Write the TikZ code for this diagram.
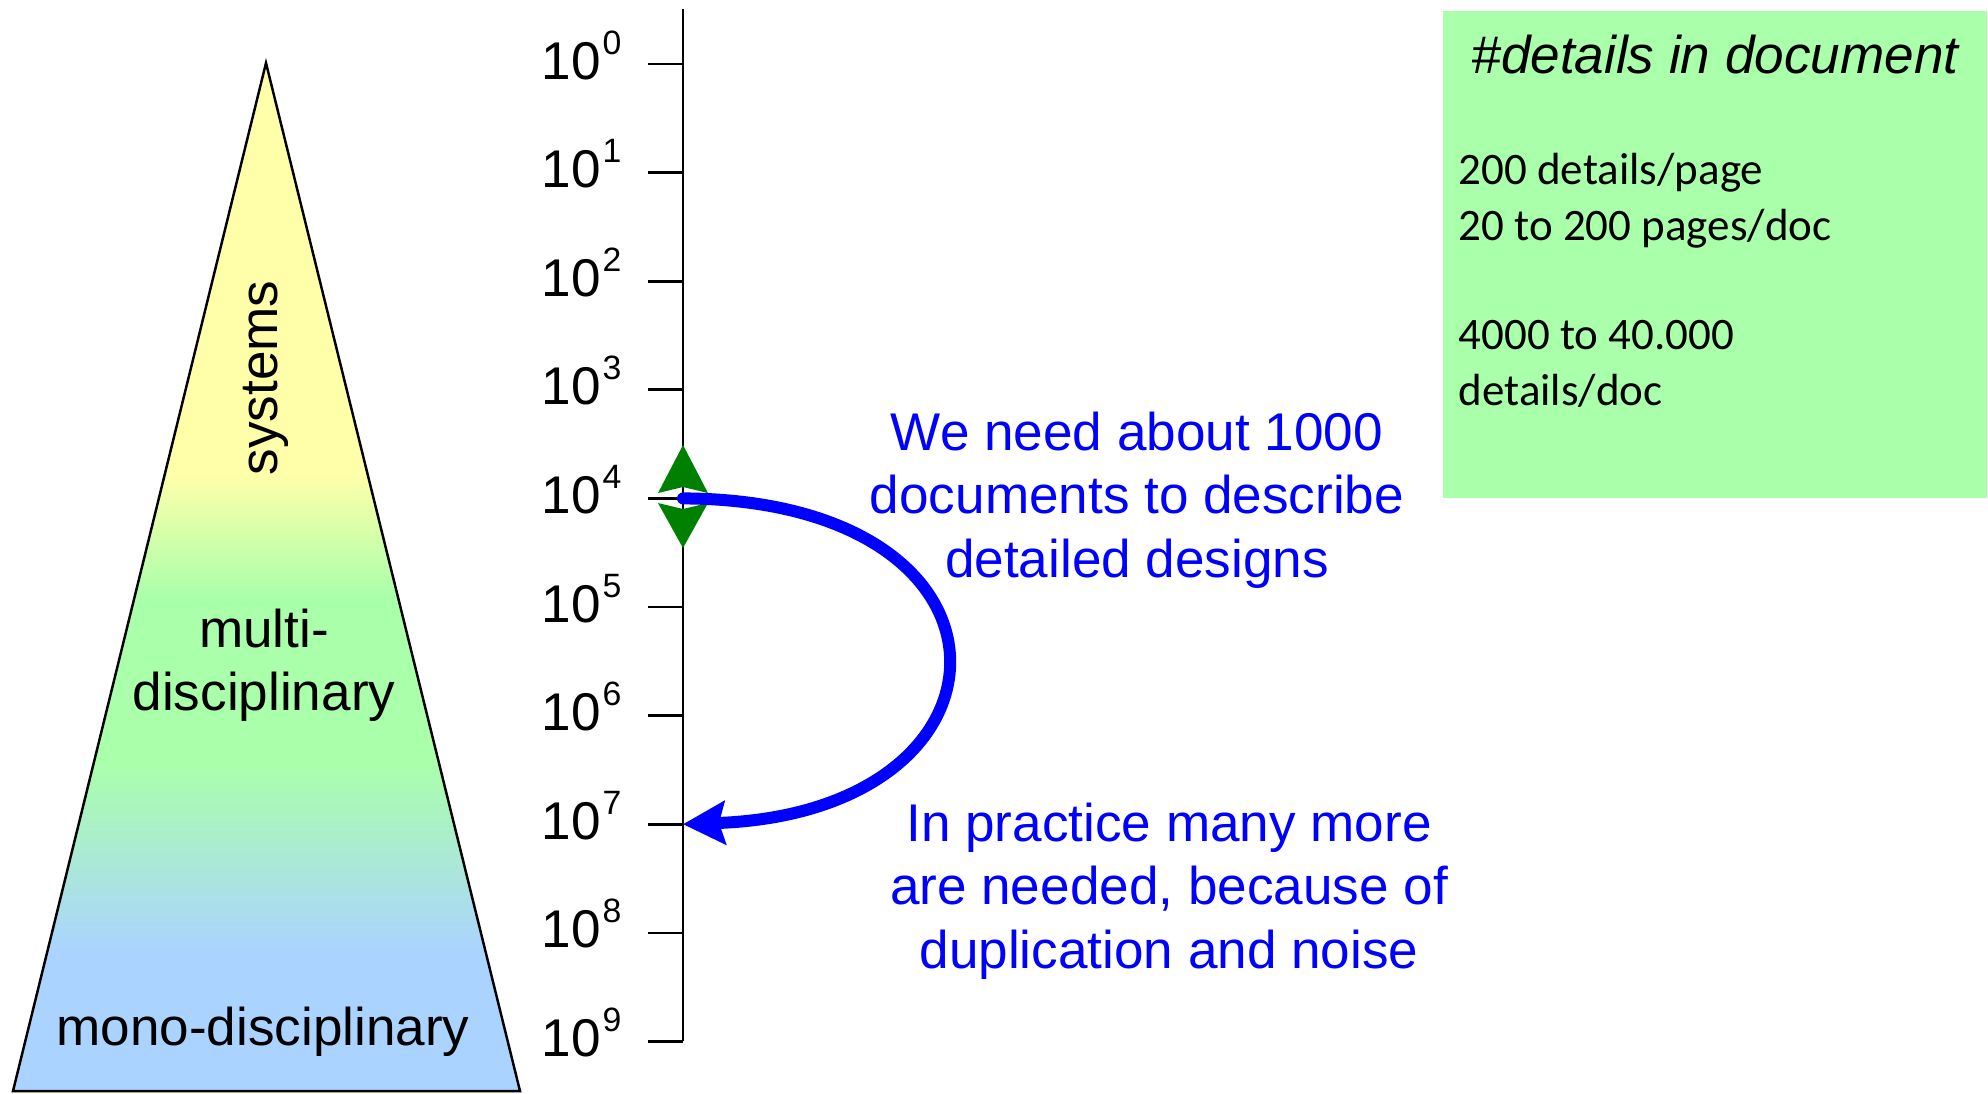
\documentclass[tikz,border=0pt]{standalone}
\usepackage{fontspec}
\setmainfont{Liberation Sans}
\newfontfamily\notefont{Carlito}
\usetikzlibrary{arrows.meta}

\definecolor{pyrYellow}{HTML}{FFFFAA}
\definecolor{pyrGreen}{HTML}{AAFFAA}
\definecolor{pyrBlue}{HTML}{AAD4FF}
\definecolor{boxGreen}{HTML}{AAFFAA}
\definecolor{markGreen}{HTML}{008000}
\definecolor{noteBlue}{HTML}{0000FF}

% pyramid fill: yellow at the apex, green in the middle, blue at the base
\pgfdeclareverticalshading{pyramidfill}{100bp}{%
  color(0bp)=(pyrBlue); color(31.8bp)=(pyrBlue);
  color(41bp)=(pyrGreen); color(49bp)=(pyrGreen);
  color(55bp)=(pyrYellow); color(100bp)=(pyrYellow)}

\begin{document}
\begin{tikzpicture}[x=0.01cm, y=-0.01cm,
  lbl/.style={font=\fontsize{15.1pt}{18pt}\selectfont, inner sep=0pt},
  bluetext/.style={lbl, text=noteBlue, align=center},
  axisline/.style={line width=0.75pt, black},
  bluearrow/.style={noteBlue, line width=0.12cm, line cap=round,
    -{Stealth[length=0.42cm, width=0.43cm, inset=0.06cm]}},
  notetext/.style={font=\notefont\fontsize{12.8pt}{15.9pt}\selectfont, inner sep=0pt, align=left}]

\useasboundingbox (0,0) rectangle (1988,1093);

% pyramid of disciplines
\path[draw, line width=0.7pt, shading=pyramidfill]
  (266,63) -- (520,1091) -- (13,1091) -- cycle;
\node[lbl, rotate=90] (sys) at (266,378) {systems};
\node[lbl, align=center] (multi) at (264,665) {multi-\\disciplinary};
\node[lbl] (mono) at (263,1032) {mono-disciplinary};

% logarithmic axis with ticks and labels
\coordinate (axtop) at (683,9);
\coordinate (axbot) at (683,1041);
\draw[axisline] (axtop) -- (axbot);
\foreach \k in {0,...,9}{
  \coordinate (t\k) at (683,{64+108.6*\k});
  \draw[axisline] (t\k) -- ++(-35,0);
  \node[lbl, anchor=base east] (e\k) at (622,{79+108.6*\k})
    {10\hspace{0.5pt}\raisebox{7.1pt}{\fontsize{9.6pt}{10pt}\selectfont\k}};
}

% green double marker at 10^4
\fill[markGreen] (683,445) -- (708,493) -- (683,487) -- (658,493) -- cycle;
\fill[markGreen] (683,548) -- (708,503) -- (683,509) -- (658,503) -- cycle;

% blue arrow from 10^4 to 10^7
\draw[bluearrow] (t4) .. controls (1037,500) and (1030,812) .. (t7);

\node[bluetext] (need) at (1137,500)
  {We need about 1000\\documents to describe\\detailed designs};
\node[bluetext] (practice) at (1169,891)
  {In practice many more\\are needed, because of\\duplication and noise};

% details box
\node[fill=boxGreen, inner sep=0pt, minimum width=5.44cm, minimum height=4.87cm,
  anchor=north west] (info) at (1442,10) {};
\node[lbl, font=\fontsize{15.1pt}{18pt}\selectfont\itshape] (title) at (1715,55)
  {\#details in document};
\node[notetext, anchor=north west] (body) at (1458,153)
  {200 details/page\\20 to 200 pages/doc\\[0.53cm]4000 to 40.000\\details/doc};

\end{tikzpicture}
\end{document}
